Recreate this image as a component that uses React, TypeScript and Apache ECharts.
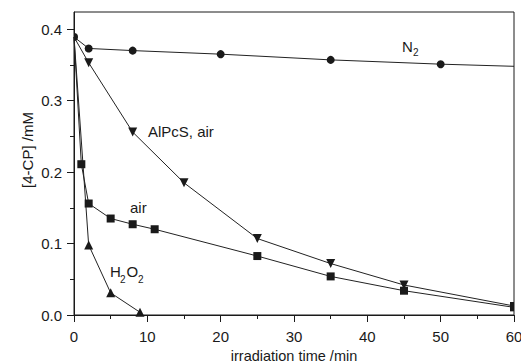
import React, { useEffect, useRef } from 'react';
import * as echarts from 'echarts';

const timesN2 = [0, 2, 8, 20, 35, 50, 60];
const valuesN2 = [0.389, 0.373, 0.37, 0.365, 0.357, 0.351, 0.348];

const timesAlPcS = [0, 2, 8, 15, 25, 35, 45, 60];
const valuesAlPcS = [0.389, 0.353, 0.256, 0.185, 0.107, 0.072, 0.042, 0.0126];

const timesAir = [0, 1, 2, 5, 8, 11, 25, 35, 45, 60];
const valuesAir = [0.389, 0.211, 0.156, 0.135, 0.127, 0.12, 0.0825, 0.054, 0.034, 0.0107];

const timesH2O2 = [0, 2, 5, 9];
const valuesH2O2 = [0.389, 0.098, 0.031, 0.0038];

const yMajorTicks = [0, 0.1, 0.2, 0.3, 0.4];
const yMinorTicks = [0.05, 0.15, 0.25, 0.35];

const X_MIN = 0;
const X_MAX = 60;

const FONT = 'Liberation Sans, Arial, Helvetica, sans-serif';
const INK = '#1a1a1a';

const HALF_DISC_RIGHT = 'path://M0,0 A1,1 0 0 1 0,2 Z';

// Points sitting on the frame are drawn clipped in half, as in the original.
function edgeData(xs: number[], ys: number[], leftSymbol: any, rightSymbol: any) {
  return xs.map((x, i) => {
    const p = [x, ys[i]];
    if (x === X_MIN) return leftSymbol ? { value: p, ...leftSymbol } : { value: p, symbol: 'none' };
    if (x === X_MAX) return rightSymbol ? { value: p, ...rightSymbol } : { value: p, symbol: 'none' };
    return p;
  });
}

export default function App() {
  const ref = useRef<HTMLDivElement>(null);
  useEffect(() => {
    const chart = echarts.init(ref.current!, null, { renderer: 'svg' });
    const lineStyle = { color: '#222', width: 1 };
    const itemStyle = { color: INK };
    const halfDiscLeft = { symbol: HALF_DISC_RIGHT, symbolSize: [4, 8], symbolOffset: [2, 0] };
    const halfRectRight = { symbol: 'rect', symbolSize: [4, 8], symbolOffset: [-2, 0] };
    const textEl = (x: number, y: number, text: string, fontSize: number) => ({
      type: 'text',
      x,
      y,
      z: 10,
      style: { text, fontSize, fontFamily: FONT, fill: INK, align: 'left', verticalAlign: 'middle' },
    });
    chart.setOption({
      animation: false,
      backgroundColor: '#fff',
      textStyle: { fontFamily: FONT, color: INK },
      grid: {
        left: 74,
        right: 7,
        top: 12,
        bottom: 48,
        containLabel: false,
        outerBoundsMode: 'none',
        show: true,
        borderColor: INK,
        borderWidth: 1,
        backgroundColor: 'transparent',
      },
      xAxis: {
        type: 'value',
        min: X_MIN,
        max: X_MAX,
        interval: 10,
        name: 'irradiation time /min',
        nameLocation: 'middle',
        nameGap: 30,
        nameTextStyle: { fontSize: 14.5, color: INK, fontFamily: FONT, lineHeight: 14 },
        axisLine: { lineStyle: { color: INK, width: 1 } },
        axisTick: { inside: false, length: 7, lineStyle: { color: INK } },
        minorTick: { show: true, splitNumber: 2, length: 4, lineStyle: { color: INK } },
        splitLine: { show: false },
        axisLabel: { fontSize: 15, color: INK, margin: 14, fontFamily: FONT },
      },
      yAxis: [
        {
          type: 'value',
          min: 0,
          max: 0.424,
          interval: 0.1,
          axisLine: { show: true, lineStyle: { color: INK, width: 1 } },
          axisTick: { show: true, inside: false, length: 7, customValues: yMajorTicks, lineStyle: { color: INK } },
          axisLabel: {
            fontSize: 15,
            color: INK,
            margin: 12,
            fontFamily: FONT,
            customValues: yMajorTicks,
            formatter: (v: number) => v.toFixed(1),
          },
          splitLine: { show: false },
        },
        {
          type: 'value',
          position: 'left',
          min: 0,
          max: 0.424,
          axisLine: { show: false },
          axisTick: { show: true, inside: false, length: 4, customValues: yMinorTicks, lineStyle: { color: INK } },
          axisLabel: { show: false },
          splitLine: { show: false },
        },
      ],
      graphic: [
        {
          type: 'text',
          x: 27,
          y: 150,
          rotation: Math.PI / 2,
          style: { text: '[4-CP] /mM', fontSize: 15, fontFamily: FONT, fill: INK, align: 'center', verticalAlign: 'middle' },
        },
        textEl(402, 46, 'N', 15),
        textEl(413, 52.5, '2', 10),
        textEl(148, 131, 'AlPcS, air', 15),
        textEl(130, 207, 'air', 15),
        textEl(110, 271, 'H', 15),
        textEl(120, 279, '2', 10),
        textEl(126.5, 271, 'O', 15),
        textEl(138, 279, '2', 10),
      ],
      series: [
        { name: 'AlPcS, air', type: 'line', data: edgeData(timesAlPcS, valuesAlPcS, null, halfRectRight), symbol: 'triangle', symbolRotate: 180, symbolSize: 9, lineStyle, itemStyle },
        { name: 'air', type: 'line', data: edgeData(timesAir, valuesAir, null, halfRectRight), symbol: 'rect', symbolSize: 8, lineStyle, itemStyle },
        { name: 'H2O2', type: 'line', data: edgeData(timesH2O2, valuesH2O2, null, null), symbol: 'triangle', symbolSize: 9, lineStyle, itemStyle },
        { name: 'N2', type: 'line', data: edgeData(timesN2, valuesN2, halfDiscLeft, { symbol: 'none' }), symbol: 'circle', symbolSize: 8, lineStyle, itemStyle },
      ],
    });
    return () => chart.dispose();
  }, []);
  return <div ref={ref} style={{ position: 'absolute', left: 0, top: 0, width: 521, height: 363, background: '#fff' }} />;
}
